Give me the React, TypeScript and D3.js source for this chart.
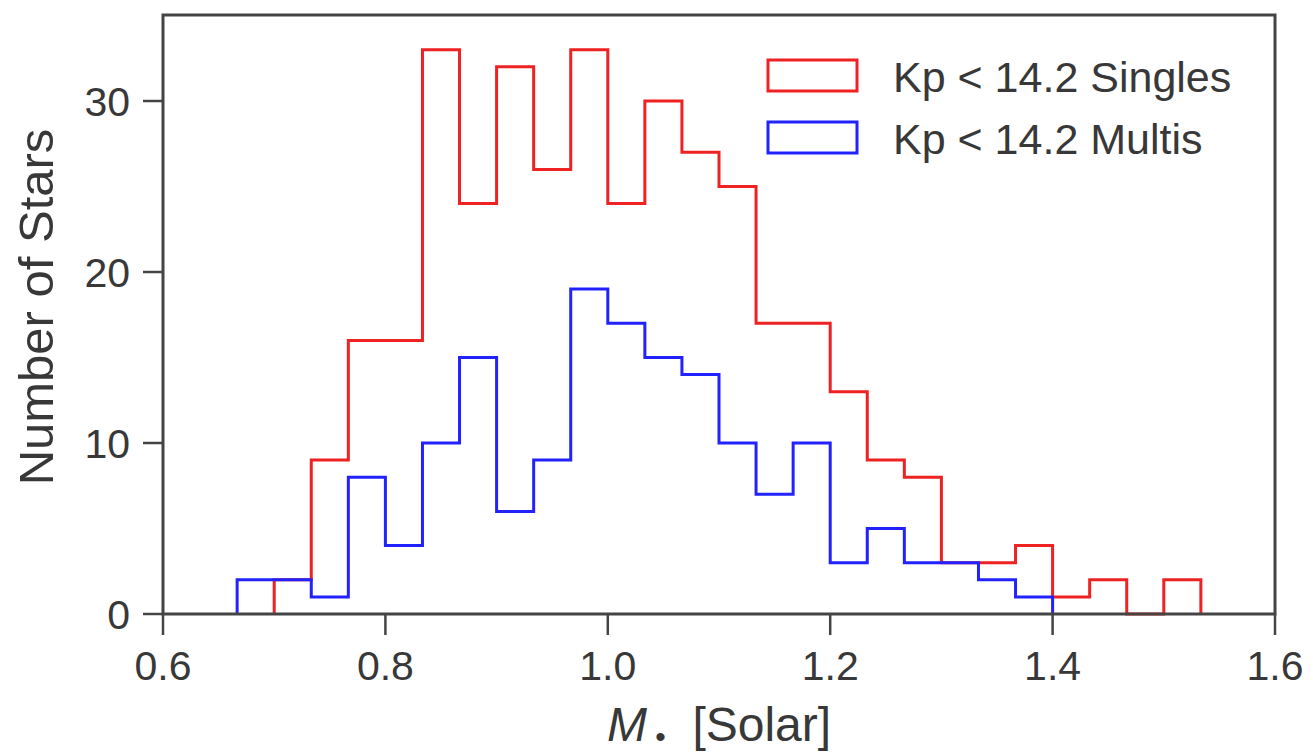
import React from "react";
import * as d3 from "d3";

// Bin edges: 0.6 + k/30
const binStart = 0.6;
const binWidth = 1 / 30;

// Singles (red): counts starting at bin index 3 (M = 0.700)
const singlesStartIndex = 3;
const singlesCounts = [2, 9, 16, 16, 33, 24, 32, 26, 33, 24, 30, 27, 25, 17, 17, 13, 9, 8, 3, 3, 4, 1, 2, 0, 2];

// Multis (blue): counts starting at bin index 2 (M = 0.667)
const multisStartIndex = 2;
const multisCounts = [2, 2, 1, 8, 4, 10, 15, 6, 9, 19, 17, 15, 14, 10, 7, 10, 3, 5, 3, 3, 2, 1];

const xTicks = [0.6, 0.8, 1.0, 1.2, 1.4, 1.6];
const yTicks = [0, 10, 20, 30];
const legendLabels = ["Kp < 14.2 Singles", "Kp < 14.2 Multis"];
const seriesColors = ["#ee2222", "#2222ff"];

const W = 1313;
const H = 753;
const M = { left: 163, right: 1275, top: 15, bottom: 614 };

export default function App() {
  const x = d3.scaleLinear().domain([0.6, 1.6]).range([M.left, M.right]);
  const y = d3.scaleLinear().domain([0, 35.03]).range([M.bottom, M.top]);

  const stepPath = (startIdx: number, counts: number[]) => {
    const pts: [number, number][] = [];
    const e0 = binStart + startIdx * binWidth;
    pts.push([e0, 0]);
    counts.forEach((c, i) => {
      const a = binStart + (startIdx + i) * binWidth;
      const b = a + binWidth;
      pts.push([a, c]);
      pts.push([b, c]);
    });
    const eN = binStart + (startIdx + counts.length) * binWidth;
    pts.push([eN, 0]);
    return d3.line<[number, number]>().x((d) => x(d[0])).y((d) => y(d[1]))(pts) || "";
  };

  const font = "'Liberation Sans', Arial, Helvetica, sans-serif";
  const textColor = "#383838";
  const axisColor = "#444";

  return (
    <div style={{ position: "absolute", left: 0, top: 0 }}>
      <svg width={W} height={H} style={{ display: "block", background: "#fff" }}>
        <rect x={0} y={0} width={W} height={H} fill="#fff" />
        {/* histograms */}
        <path d={stepPath(singlesStartIndex, singlesCounts)} fill="none" stroke={seriesColors[0]} strokeWidth={3} strokeLinejoin="miter" />
        <path d={stepPath(multisStartIndex, multisCounts)} fill="none" stroke={seriesColors[1]} strokeWidth={3} strokeLinejoin="miter" />
        {/* frame */}
        <rect x={M.left} y={M.top} width={M.right - M.left} height={M.bottom - M.top} fill="none" stroke={axisColor} strokeWidth={3} />
        {/* y ticks */}
        {yTicks.map((t) => (
          <g key={"y" + t}>
            <line x1={M.left - 20} x2={M.left} y1={y(t)} y2={y(t)} stroke={axisColor} strokeWidth={2.5} />
            <text x={M.left - 33} y={y(t)} dy="0.36em" textAnchor="end" fontFamily={font} fontSize={41} fill={textColor}>
              {t}
            </text>
          </g>
        ))}
        {/* x ticks */}
        {xTicks.map((t) => (
          <g key={"x" + t}>
            <line x1={x(t)} x2={x(t)} y1={M.bottom} y2={M.bottom + 21} stroke={axisColor} strokeWidth={2.5} />
            <text x={x(t)} y={M.bottom + 66} textAnchor="middle" fontFamily={font} fontSize={41} fill={textColor}>
              {t.toFixed(1)}
            </text>
          </g>
        ))}
        {/* axis titles */}
        <text x={(M.left + M.right) / 2} y={741} textAnchor="middle" fontFamily={font} fontSize={48} fill={textColor} style={{ whiteSpace: "pre" }}>
          <tspan fontStyle="italic">M</tspan>
          <tspan fontSize={30} dy={6}>{" \u2022"}</tspan>
          <tspan dy={-6}>{"  [Solar]"}</tspan>
        </text>
        <text transform={`translate(53, 307) rotate(-90)`} textAnchor="middle" fontFamily={font} fontSize={49} fill={textColor}>
          Number of Stars
        </text>
        {/* legend */}
        {legendLabels.map((lab, i) => (
          <g key={lab} transform={`translate(0, ${i * 62})`}>
            <rect x={768} y={60} width={89} height={31} fill="none" stroke={seriesColors[i]} strokeWidth={3} />
            <text x={893} y={92} fontFamily={font} fontSize={43} fill={textColor}>
              {lab}
            </text>
          </g>
        ))}
      </svg>
    </div>
  );
}
